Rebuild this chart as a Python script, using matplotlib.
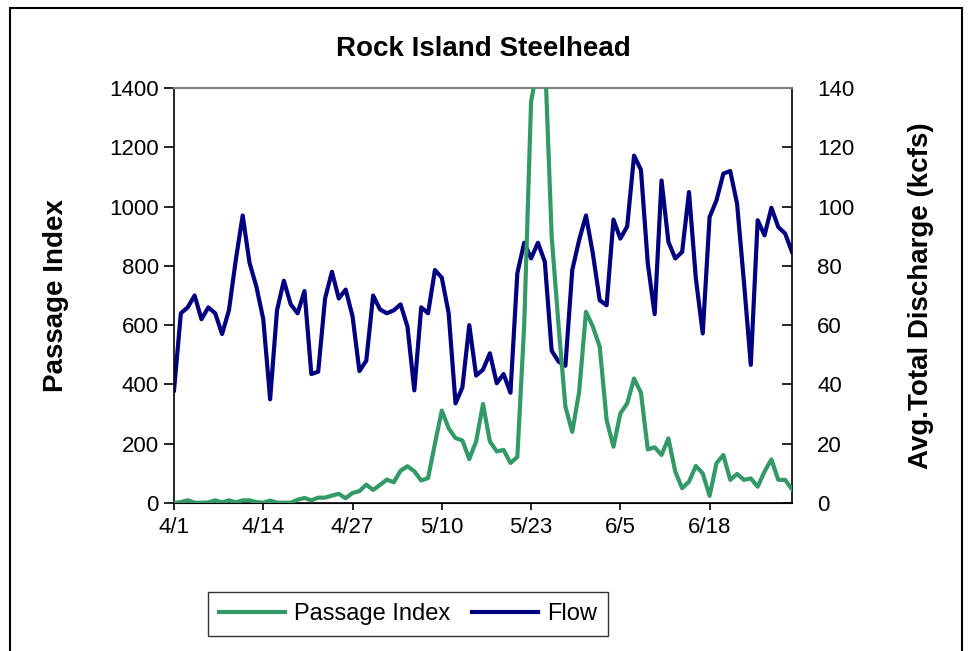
"""
rock island steelhead passage index vs avg total discharge, spring season
"""

import matplotlib.pyplot as plt
from matplotlib.patches import Rectangle

# daily series, 4/1 through 6/30
passage_index = [
    0, 3, 9, 1, 1, 2, 9, 2, 9, 2,
    9, 9, 3, 1, 8, 1, 1, 1, 11, 17,
    9, 18, 18, 25, 31, 16, 34, 40, 62, 44,
    61, 79, 70, 109, 124, 107, 76, 84, 200, 312,
    252, 219, 211, 148, 208, 334, 208, 174, 179, 135,
    155, 600, 1354, 1480, 1520, 900, 600, 325, 240, 375,
    645, 595, 527, 280, 190, 302, 336, 420, 372, 181,
    188, 162, 218, 106, 50, 72, 125, 100, 24, 134,
    162, 78, 98, 78, 83, 55, 106, 147, 78, 78,
    46,
]

flow_kcfs = [
    38, 64, 66, 70, 62, 66, 64, 57, 65, 82,
    97, 81, 73, 62, 35, 65, 75, 67, 64, 71.5,
    43.5, 44.3, 69, 78, 69, 72, 63, 44.5, 48, 70,
    65.3, 64, 65, 67, 59.5, 38, 66, 64, 78.6, 76,
    64, 33.6, 39, 60, 43, 45, 50.5, 40.4, 43.5, 37.2,
    77.5, 87.8, 82.5, 87.8, 81.4, 51.4, 47.7, 46.3, 78.6, 88.7,
    97, 84.1, 68.4, 66.7, 95.6, 89.2, 93.3, 117.2, 112.4, 80.8,
    63.7, 108.8, 88.1, 82.5, 84.7, 104.9, 75.7, 57.2, 96.5, 102.1,
    111.1, 112, 101, 74.6, 46.6, 95.4, 90.3, 99.6, 93.1, 90.9,
    84.7,
]

tick_days = [0, 13, 26, 39, 52, 65, 78]
tick_labels = ['4/1', '4/14', '4/27', '5/10', '5/23', '6/5', '6/18']

GREEN = '#339966'
NAVY = '#000080'


def make_chart():
    plt.rcParams['font.family'] = ['Liberation Sans', 'DejaVu Sans']

    fig = plt.figure(figsize=(9.68, 6.51), dpi=100)
    ax = fig.add_axes([174 / 968, 1 - 503 / 651, 618 / 968, 415 / 651])
    ax2 = ax.twinx()

    days = list(range(len(passage_index)))

    # passage index on the left scale, flow on the right one
    l1, = ax.plot(days, passage_index, color=GREEN, linewidth=3,
                  label='Passage Index', zorder=3)
    l2, = ax2.plot(days, flow_kcfs, color=NAVY, linewidth=3,
                   label='Flow', zorder=2)
    ax.set_zorder(ax2.get_zorder() + 1)
    ax.patch.set_visible(False)

    ax.set_xlim(0, len(days) - 1)
    ax.set_ylim(0, 1400)
    ax2.set_ylim(0, 140)
    ax.set_yticks(range(0, 1401, 200))
    ax2.set_yticks(range(0, 141, 20))
    ax.set_xticks(tick_days)
    ax.set_xticklabels(tick_labels)

    # spines like the excel plot area
    ax.spines['top'].set_color('#808080')
    ax.spines['top'].set_linewidth(1.5)
    ax.spines['right'].set_visible(False)
    ax2.spines['top'].set_visible(False)
    ax2.spines['left'].set_visible(False)
    for sp in ['left', 'bottom']:
        ax.spines[sp].set_linewidth(1.2)
    ax2.spines['right'].set_linewidth(1.2)

    ax.tick_params(axis='y', direction='out', length=7, width=1.2, labelsize=16, pad=4)
    ax.tick_params(axis='x', direction='out', length=5, width=1.2, labelsize=16, pad=5)
    ax2.tick_params(axis='y', direction='in', length=7, width=1.2, labelsize=16, pad=18)

    ax.set_ylabel('Passage Index', fontsize=20, fontweight='bold', labelpad=29)
    ax2.set_ylabel('Avg.Total Discharge (kcfs)', fontsize=20, fontweight='bold', labelpad=39)
    ax.set_title('Rock Island Steelhead', fontsize=20, fontweight='bold', pad=23)

    leg = fig.legend(handles=[l1, l2], loc='center', ncol=2,
                     bbox_to_anchor=(408 / 968, 1 - 614 / 651),
                     fontsize=17, frameon=True, fancybox=False,
                     handlelength=2.8, handletextpad=0.4, columnspacing=0.9,
                     borderpad=0.45)
    leg.get_frame().set_edgecolor('black')
    leg.get_frame().set_linewidth(1.0)

    # outer chart border
    fig.patches.append(Rectangle((10 / 968, -0.02), 952 / 968, 1.02 - 8 / 651,
                                 transform=fig.transFigure, fill=False,
                                 edgecolor='black', linewidth=1.5))

    fig.savefig('out.png', dpi=100)
    plt.close(fig)


if __name__ == "__main__":
    make_chart()
